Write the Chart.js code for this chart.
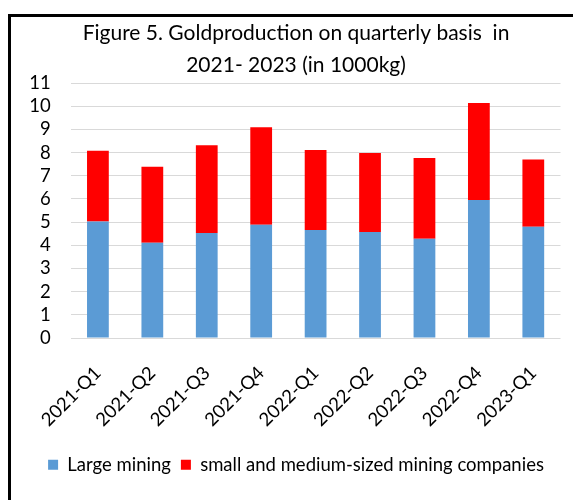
<!DOCTYPE html>
<html>
<head>
<meta charset="utf-8">
<script src="https://cdn.jsdelivr.net/npm/chart.js@4.4.0/dist/chart.umd.min.js"></script>
<style>
  html, body { margin: 0; padding: 0; background: #fff; overflow: hidden; }
  #frame { position: absolute; left: 8px; top: 14px; width: 700px; height: 700px; border: 3px solid #000; }
  #wrap { position: absolute; left: 0; top: 0; width: 573px; height: 500px; }
</style>
</head>
<body>
<div id="frame"></div>
<div id="wrap"><canvas id="gold-chart" width="573" height="500"></canvas></div>
<script>
// Quarters shown on the x axis
let quarters = ['2021-Q1', '2021-Q2', '2021-Q3', '2021-Q4', '2022-Q1', '2022-Q2', '2022-Q3', '2022-Q4', '2023-Q1']

// Gold production per quarter (in 1000 kg)
let largeMining = [5.03, 4.11, 4.53, 4.89, 4.66, 4.57, 4.28, 5.95, 4.80]
let smallMediumMining = [3.05, 3.28, 3.78, 4.20, 3.45, 3.41, 3.48, 4.19, 2.90]

// Y axis range
let yMin = 0
let yMax = 11
let yStep = 1

let fontName = 'Lato'

let cxt = document.querySelector('#gold-chart').getContext('2d')

let chart = new Chart(cxt, {
    type: 'bar',
    data: {
        labels: quarters,
        datasets: [
            {
                label: 'Large mining',
                data: largeMining,
                backgroundColor: '#5B9BD5',
                barPercentage: 0.4,
                categoryPercentage: 1
            },
            {
                label: 'small and medium-sized mining companies',
                data: smallMediumMining,
                backgroundColor: '#FF0000',
                barPercentage: 0.4,
                categoryPercentage: 1
            }
        ]
    },
    options: {
        responsive: false,
        animation: false,
        layout: { padding: { left: 19, right: 0, top: 0, bottom: 16 } },
        plugins: {
            title: {
                display: true,
                text: ['Figure 5. Goldproduction on quarterly basis  in', '2021- 2023 (in 1000kg)'],
                color: '#000',
                font: { family: fontName, size: 21, weight: 'normal', lineHeight: 1.524 },
                padding: { top: 17, bottom: 2 }
            },
            legend: {
                position: 'bottom',
                labels: {
                    color: '#000',
                    font: { family: fontName, size: 18.5 },
                    boxWidth: 10,
                    boxHeight: 10,
                    padding: 10
                }
            },
            tooltip: { enabled: false }
        },
        scales: {
            x: {
                stacked: true,
                grid: { display: false, drawTicks: false },
                border: { display: false },
                ticks: {
                    color: '#000',
                    font: { family: fontName, size: 18.5 },
                    minRotation: 45,
                    maxRotation: 45,
                    padding: 24
                },
                afterFit: function (scale) {
                    scale.height = 107.5
                }
            },
            y: {
                stacked: true,
                min: yMin,
                max: yMax,
                grid: { color: '#d9d9d9', lineWidth: 1, drawTicks: false },
                border: { display: false },
                ticks: {
                    stepSize: yStep,
                    autoSkip: false,
                    color: '#000',
                    font: { family: fontName, size: 18.5 },
                    padding: 20
                },
                afterFit: function (scale) {
                    scale.width = 51.7
                }
            }
        }
    }
})
</script>
</body>
</html>
